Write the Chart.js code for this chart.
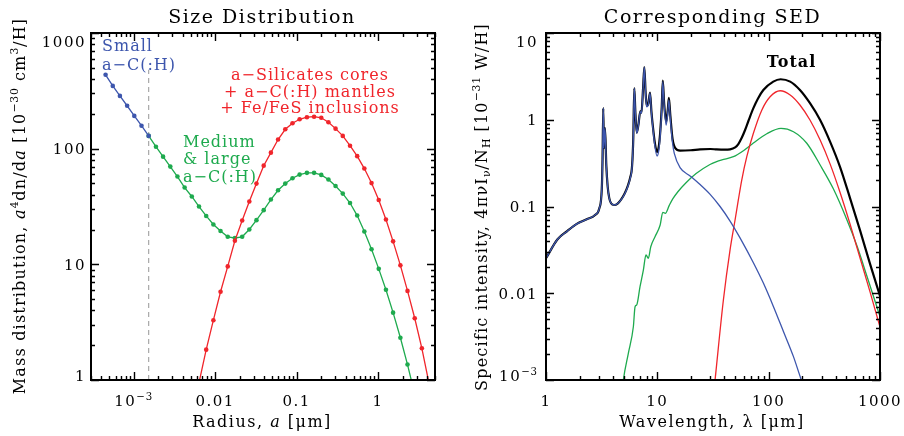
<!DOCTYPE html>
<html><head><meta charset="utf-8">
<script src="https://cdn.jsdelivr.net/npm/chart.js@4.4.1/dist/chart.umd.min.js"></script>
<style>
html,body{margin:0;padding:0;background:#fff;}
body{width:904px;height:436px;overflow:hidden;position:relative;}
.w{position:absolute;top:0;width:452px;height:436px;}
#w1{left:0;} #w2{left:452px;}
</style></head><body>
<div class="w" id="w1"><canvas id="c1"></canvas></div>
<div class="w" id="w2"><canvas id="c2"></canvas></div>
<script>
// ---------- Left panel: size distribution (radius in micron, mass distribution) ----------
const radiusBlue = [4.53e-4, 5.55e-4, 6.79e-4, 8.33e-4, 1.02e-3, 1.25e-3, 1.53e-3];
const massBlue   = [435, 349, 286, 235, 192, 158, 129];

const radiusGreen = [1.53e-3, 1.88e-3, 2.30e-3, 2.82e-3, 3.45e-3, 4.23e-3, 5.18e-3, 6.35e-3, 7.78e-3, 9.53e-3,
  0.01167, 0.0143, 0.0175, 0.0215, 0.0263, 0.0322, 0.0395, 0.0484, 0.0593, 0.0727, 0.0891, 0.109, 0.134, 0.164,
  0.201, 0.246, 0.301, 0.369, 0.453, 0.555, 0.679, 0.832, 1.02, 1.25, 1.53, 1.88, 2.30, 2.82];
const massGreen = [129, 104, 85.3, 70, 57.4, 46.1, 38.6, 31.6, 26.2, 22.1, 19.4, 17.3, 16.9, 17.3, 20.0, 24.1,
  29.4, 36.3, 43.7, 49.9, 55.5, 59.7, 61.8, 61.8, 59.3, 54.1, 47.5, 40.9, 33.9, 26.4, 19.2, 13.5, 9.14, 6.03,
  3.82, 2.32, 1.36, 0.75];

const radiusRed = [6.35e-3, 7.78e-3, 9.53e-3, 0.01167, 0.0143, 0.0175, 0.0215, 0.0263, 0.0322, 0.0395, 0.0484,
  0.0593, 0.0727, 0.0891, 0.109, 0.134, 0.164, 0.201, 0.246, 0.301, 0.369, 0.453, 0.555, 0.679, 0.832, 1.02,
  1.25, 1.53, 1.88, 2.30, 2.82, 3.45, 4.23];
const massRed = [0.95, 1.83, 3.29, 5.79, 9.6, 16.0, 23.9, 34.9, 49.9, 71.3, 92.4, 120, 147, 166, 179.5, 187,
  189, 185, 169, 149, 129, 106, 86.2, 67.3, 50.4, 36.0, 24.4, 15.8, 9.8, 5.89, 3.42, 1.88, 0.93];

const cutRadius = [1.53e-3, 1.53e-3];
const cutMass   = [1, 480];

const sizeXTicks  = [1e-3, 1e-2, 1e-1, 1];
const sizeXLabels = [['10', {t:'−3', sup:true}], ['0.01'], ['0.1'], ['1']];
const sizeYTicks  = [1, 10, 100, 1000];
const sizeYLabels = [['1'], ['10'], ['100'], ['1000']];

// ---------- Right panel: SED (wavelength in micron, 4 pi nu I_nu / N_H) ----------
const sedBlueL = [1.0, 1.27, 1.55, 1.89, 2.32, 2.76, 3.01, 3.17, 3.22, 3.27, 3.31, 3.39, 3.48, 3.58, 3.7, 3.84,
  4.11, 4.4, 4.72, 5.1, 5.42, 5.7, 5.93, 6.08, 6.21, 6.35, 6.53, 6.75, 7.03, 7.2, 7.45, 7.64, 7.85, 8.03, 8.3,
  8.6, 8.85, 9.09, 9.5, 9.94, 10.3, 10.6, 10.95, 11.2, 11.5, 12.0, 12.4, 12.7, 13.1, 13.7, 14.2, 16.0, 19.7,
  24.2, 29.8, 36.6, 45.0, 55.3, 72.9, 89.6, 110, 136, 167, 194, 210];
const sedBlueI = [0.0253, 0.0419, 0.052, 0.063, 0.0711, 0.080, 0.095, 0.16, 0.35, 1.36, 0.47, 0.80, 0.3, 0.17,
  0.125, 0.109, 0.104, 0.108, 0.119, 0.14, 0.169, 0.21, 0.288, 0.6, 2.31, 1.2, 0.698, 0.85, 1.24, 1.19, 2.3,
  4.03, 2.0, 1.41, 1.5, 2.02, 1.2, 0.832, 0.5, 0.382, 0.44, 0.638, 1.3, 2.75, 1.5, 0.869, 1.2, 1.69, 1.0,
  0.536, 0.41, 0.28, 0.225, 0.179, 0.138, 0.1, 0.068, 0.0435, 0.0225, 0.0131, 0.0071, 0.0036, 0.00186,
  0.00105, 0.0008];

const sedGreenL = [4.82, 4.95, 5.49, 6.09, 6.31, 6.53, 6.99, 7.49, 7.91, 8.30, 8.73, 9.53, 10.6, 11.2, 11.8,
  12.8, 13.8, 15.3, 18.1, 22.3, 29.7, 34.1, 38.0, 48.2, 59.3, 72.9, 96.2, 129, 167, 220, 290, 381, 503, 622,
  766, 1000];
const sedGreenI = [0.00073, 0.001, 0.00203, 0.00411, 0.0070, 0.00733, 0.0119, 0.0185, 0.0276, 0.0253, 0.0344,
  0.0449, 0.0612, 0.0857, 0.0835, 0.103, 0.123, 0.148, 0.188, 0.24, 0.305, 0.33, 0.345, 0.375, 0.44, 0.54,
  0.69, 0.797, 0.728, 0.536, 0.301, 0.16, 0.071, 0.035, 0.0155, 0.0054];

const sedRedL = [32.3, 33.0, 39.2, 45.0, 49.9, 53.4, 57.3, 63.6, 72.9, 86.7, 103, 127, 156, 191, 235, 290, 356,
  438, 538, 662, 815, 1000];
const sedRedI = [0.00077, 0.001, 0.00836, 0.0316, 0.0699, 0.119, 0.202, 0.375, 0.698, 1.29, 1.84, 2.16, 1.93,
  1.48, 0.993, 0.584, 0.31, 0.145, 0.0628, 0.0255, 0.0103, 0.00408];

const sedTotalL = [1.0, 1.27, 1.55, 1.89, 2.32, 2.76, 3.01, 3.17, 3.22, 3.27, 3.31, 3.39, 3.48, 3.58, 3.7, 3.84,
  4.11, 4.4, 4.72, 5.1, 5.42, 5.7, 5.93, 6.08, 6.21, 6.35, 6.53, 6.75, 7.03, 7.2, 7.45, 7.64, 7.85, 8.03, 8.3,
  8.6, 8.85, 9.09, 9.5, 9.94, 10.3, 10.6, 10.95, 11.2, 11.5, 12.0, 12.4, 12.7, 13.1, 13.7, 14.5, 16.0, 20.0,
  24.2, 30.0, 34.1, 40.0, 45.0, 50.0, 53.4, 57.3, 61.4, 66.0, 72.9, 80.0, 89.6, 110, 128, 156, 191, 235, 290,
  356, 438, 538, 662, 815, 1000];
const sedTotalI = [0.0253, 0.0419, 0.052, 0.063, 0.0711, 0.080, 0.095, 0.16, 0.35, 1.36, 0.47, 0.80, 0.3, 0.17,
  0.125, 0.109, 0.104, 0.108, 0.12, 0.142, 0.172, 0.214, 0.294, 0.61, 2.32, 1.21, 0.71, 0.86, 1.25, 1.21, 2.32,
  4.05, 2.03, 1.44, 1.53, 2.05, 1.24, 0.87, 0.54, 0.425, 0.49, 0.70, 1.38, 2.83, 1.58, 0.95, 1.28, 1.79, 1.1,
  0.60, 0.47, 0.44, 0.445, 0.456, 0.46, 0.455, 0.452, 0.456, 0.48, 0.525, 0.62, 0.762, 0.98, 1.36, 1.75, 2.20,
  2.75, 2.93, 2.75, 2.20, 1.55, 0.993, 0.56, 0.285, 0.125, 0.053, 0.0217, 0.0093];

const sedXTicks  = [1, 10, 100, 1000];
const sedXLabels = [['1'], ['10'], ['100'], ['1000']];
const sedYTicks  = [1e-3, 0.01, 0.1, 1, 10];
const sedYLabels = [['10', {t:'−3', sup:true}], ['0.01'], ['0.1'], ['1'], ['10']];

// ---------- styling ----------
const BLUE = '#3d56ad', RED = '#f0252b', GREEN = '#1eaa4e', GREY = '#a8a8a8';
const FONT = "'DejaVu Serif', 'Liberation Serif', serif";

function pts(xs, ys) { return xs.map((x, i) => ({x: x, y: ys[i]})); }

function richDraw(ctx, segs, x, y, o) {
  const size = o.size, ls = o.ls || 0;
  ctx.save();
  ctx.translate(x, y);
  if (o.rot) ctx.rotate(o.rot);
  const parts = segs.map(s => {
    if (typeof s === 'string') s = {t: s};
    const small = !!(s.sup || s.sub);
    const sz = small ? size * 0.68 : size;
    const font = (s.it ? 'italic ' : '') + (o.bold ? 'bold ' : '') + sz.toFixed(1) + 'px ' + FONT;
    const lsp = small ? ls * 0.6 : ls;
    ctx.font = font;
    if ('letterSpacing' in ctx) ctx.letterSpacing = lsp + 'px';
    const w = ctx.measureText(s.t).width;
    return {t: s.t, font, w, lsp, dy: s.sup ? -size * 0.42 : (s.sub ? size * 0.22 : 0)};
  });
  const total = parts.reduce((a, p) => a + p.w, 0);
  let cx = o.align === 'left' ? 0 : (o.align === 'right' ? -total : -total / 2);
  ctx.fillStyle = o.color || '#000';
  ctx.textAlign = 'left';
  ctx.textBaseline = 'alphabetic';
  const base = size * 0.36;
  for (const p of parts) {
    ctx.font = p.font;
    if ('letterSpacing' in ctx) ctx.letterSpacing = p.lsp + 'px';
    ctx.fillText(p.t, cx, base + p.dy);
    cx += p.w;
  }
  ctx.restore();
}

const idlPlugin = {
  id: 'idl',
  afterDatasetsDraw(chart, args, o) {
    const ctx = chart.ctx, a = chart.chartArea, xs = chart.scales.x, ys = chart.scales.y;
    ctx.save();
    const tickList = (s) => {
      const out = [];
      const lo = Math.floor(Math.log10(s.min)), hi = Math.ceil(Math.log10(s.max));
      for (let n = lo; n <= hi; n++) for (let d = 1; d <= 9; d++) {
        const v = d * Math.pow(10, n);
        if (v >= s.min * 0.999 && v <= s.max * 1.001) out.push({v: v, major: d === 1});
      }
      return out;
    };
    ctx.strokeStyle = '#000';
    ctx.lineWidth = 1.4;
    ctx.beginPath();
    for (const t of tickList(xs)) {
      const px = Math.round(xs.getPixelForValue(t.v)) + 0.5, L = t.major ? 8 : 4;
      ctx.moveTo(px, a.bottom); ctx.lineTo(px, a.bottom - L);
      ctx.moveTo(px, a.top); ctx.lineTo(px, a.top + L);
    }
    for (const t of tickList(ys)) {
      const py = Math.round(ys.getPixelForValue(t.v)) + 0.5, L = t.major ? 8 : 4;
      ctx.moveTo(a.left, py); ctx.lineTo(a.left + L, py);
      ctx.moveTo(a.right, py); ctx.lineTo(a.right - L, py);
    }
    ctx.stroke();
    ctx.lineWidth = 2;
    ctx.strokeRect(a.left, a.top, a.right - a.left, a.bottom - a.top);

    o.xTicks.forEach((v, i) => richDraw(ctx, o.xLabels[i], xs.getPixelForValue(v), a.bottom + 21,
      {size: o.tickSize, ls: o.tickLs}));
    o.yTicks.forEach((v, i) => {
      let py = ys.getPixelForValue(v);
      py = Math.min(Math.max(py, a.top + 9), a.bottom - 4);
      richDraw(ctx, o.yLabels[i], a.left - o.yGap, py, {size: o.tickSize, ls: o.tickLs, align: 'right'});
    });
    for (const t of o.texts) richDraw(ctx, t.segs, t.x, t.y, t);
    ctx.restore();
  }
};

function baseOptions(xmin, xmax, ymin, ymax, pad, idl) {
  return {
    responsive: true, maintainAspectRatio: false, animation: false, devicePixelRatio: 1,
    layout: {padding: pad},
    events: [],
    scales: {
      x: {type: 'logarithmic', min: xmin, max: xmax, display: false},
      y: {type: 'logarithmic', min: ymin, max: ymax, display: false}
    },
    plugins: {legend: {display: false}, tooltip: {enabled: false}, idl: idl}
  };
}

// ---------- Left chart ----------
const dotStyle = (c) => ({borderColor: c, backgroundColor: c, pointBackgroundColor: c, pointBorderColor: c,
  pointRadius: 2.3, pointBorderWidth: 0, borderWidth: 1.3, tension: 0});

new Chart(document.getElementById('c1'), {
  type: 'line',
  data: {datasets: [
    Object.assign({label: 'Small a-C(:H)', data: pts(radiusBlue, massBlue)}, dotStyle(BLUE)),
    Object.assign({label: 'a-Silicates', data: pts(radiusRed, massRed)}, dotStyle(RED)),
    Object.assign({label: 'Medium & large a-C(:H)', data: pts(radiusGreen, massGreen)}, dotStyle(GREEN)),
    {label: 'cut', data: pts(cutRadius, cutMass), borderColor: GREY, borderWidth: 1.2, borderDash: [5, 4],
     pointRadius: 0}
  ]},
  options: baseOptions(3.0e-4, 5, 1, 1000, {left: 91, right: 17, top: 33, bottom: 56}, {
    xTicks: sizeXTicks, xLabels: sizeXLabels, yTicks: sizeYTicks, yLabels: sizeYLabels,
    tickSize: 15, tickLs: 1.5, yGap: 5,
    texts: [
      {segs: ['Size Distribution'], x: 262, y: 16, size: 19, ls: 1.5},
      {segs: ['Radius, ', {t: 'a', it: true}, ' [μm]'], x: 262, y: 421, size: 16, ls: 1.5},
      {segs: ['Mass distribution, ', {t: 'a', it: true}, {t: '4', sup: true}, 'dn/d', {t: 'a', it: true},
              ' [10', {t: '−30', sup: true}, ' cm', {t: '3', sup: true}, '/H]'],
       x: 19, y: 206, size: 16, ls: 1.2, rot: -Math.PI / 2},
      {segs: ['Small'], x: 102, y: 45, size: 16, ls: 1, align: 'left', color: BLUE},
      {segs: ['a−C(:H)'], x: 102, y: 64, size: 16, ls: 1, align: 'left', color: BLUE},
      {segs: ['a−Silicates cores'], x: 310, y: 74, size: 16, ls: 1, color: RED},
      {segs: ['+ a−C(:H) mantles'], x: 310, y: 91, size: 16, ls: 1, color: RED},
      {segs: ['+ Fe/FeS inclusions'], x: 310, y: 107, size: 16, ls: 1, color: RED},
      {segs: ['Medium'], x: 183, y: 141.5, size: 16, ls: 1, align: 'left', color: GREEN},
      {segs: ['& large'], x: 183, y: 158, size: 16, ls: 1, align: 'left', color: GREEN},
      {segs: ['a−C(:H)'], x: 183, y: 176, size: 16, ls: 1, align: 'left', color: GREEN}
    ]
  }),
  plugins: [idlPlugin]
});

// ---------- Right chart ----------
const lineStyle = (c, w) => ({borderColor: c, backgroundColor: c, borderWidth: w, pointRadius: 0,
  cubicInterpolationMode: 'monotone'});

new Chart(document.getElementById('c2'), {
  type: 'line',
  data: {datasets: [
    Object.assign({label: 'Small a-C(:H)', data: pts(sedBlueL, sedBlueI)}, lineStyle(BLUE, 1.3)),
    Object.assign({label: 'a-Silicates', data: pts(sedRedL, sedRedI)}, lineStyle(RED, 1.3)),
    Object.assign({label: 'Medium & large a-C(:H)', data: pts(sedGreenL, sedGreenI)}, lineStyle(GREEN, 1.3)),
    Object.assign({label: 'Total', data: pts(sedTotalL, sedTotalI)}, lineStyle('#000', 2.2))
  ]},
  options: baseOptions(1, 1000, 1e-3, 10, {left: 94, right: 24, top: 33, bottom: 56}, {
    xTicks: sedXTicks, xLabels: sedXLabels, yTicks: sedYTicks, yLabels: sedYLabels,
    tickSize: 15, tickLs: 1.5, yGap: 8,
    texts: [
      {segs: ['Corresponding SED'], x: 260.5, y: 16, size: 19, ls: 1.5},
      {segs: ['Wavelength, λ [μm]'], x: 260, y: 421, size: 16, ls: 1.5},
      {segs: ['Specific intensity, 4πν', 'I', {t: 'ν', sub: true}, '/N', {t: 'H', sub: true},
              ' [10', {t: '−31', sup: true}, ' W/H]'],
       x: 29, y: 207, size: 16, ls: 1.2, rot: -Math.PI / 2},
      {segs: ['Total'], x: 339.5, y: 61.5, size: 16, ls: 1, bold: true}
    ]
  }),
  plugins: [idlPlugin]
});
</script>
</body></html>
